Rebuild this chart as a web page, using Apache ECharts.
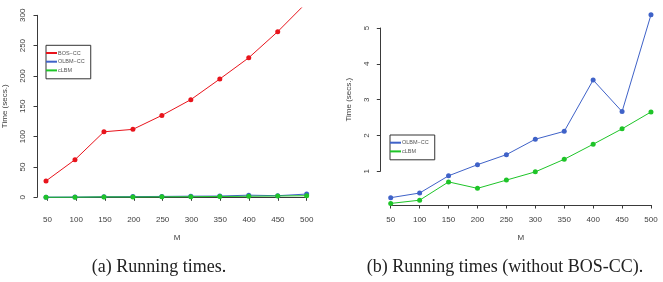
<!DOCTYPE html>
<html>
<head>
<meta charset="utf-8">
<script src="https://cdn.jsdelivr.net/npm/echarts@6/dist/echarts.min.js"></script>
<style>
html,body{margin:0;padding:0;background:#fff;}
#c{width:663px;height:282px;}
</style>
</head>
<body>
<div id="c"></div>
<script>
// ---- data ----
var M = [50, 100, 150, 200, 250, 300, 350, 400, 450, 500];
var bosCC = [27, 62, 108, 112, 135, 161, 195, 230, 273, 321];
var olbmCC = [0.27, 0.40, 0.88, 1.19, 1.47, 1.90, 2.12, 3.55, 2.67, 5.37];
var cLBM = [0.11, 0.20, 0.71, 0.53, 0.76, 0.99, 1.34, 1.76, 2.19, 2.66];
var leftTicksY = [0, 50, 100, 150, 200, 250, 300];
var rightTicksY = [1, 2, 3, 4, 5];
var names = ['BOS\u2212CC', 'OLBM\u2212CC', 'cLBM'];
var captions = ['(a) Running times.', '(b) Running times (without BOS-CC).'];

var RED = '#e8141c', BLUE = '#3f62c8', GREEN = '#1ec428';
var AX = '#3a3a3a', TXT = '#404040';

function pairs(ys) { return M.map(function (m, i) { return [m, ys[i]]; }); }

function frameX(grid, offset, nameGap) {
  return {
    gridIndex: grid, type: 'value', min: M[0], max: M[M.length - 1], interval: 50,
    offset: offset, position: 'bottom',
    name: 'M', nameLocation: 'middle', nameGap: nameGap,
    nameTextStyle: { fontSize: 8, color: TXT, fontFamily: 'Liberation Sans' },
    axisLine: { show: true, lineStyle: { color: AX, width: 1 } },
    axisTick: { show: true, length: 3.5, lineStyle: { color: AX } },
    axisLabel: { fontSize: 8, color: TXT, margin: 11, fontFamily: 'Liberation Sans' },
    splitLine: { show: false }
  };
}
function frameY(grid, ticks, offset, nameGap) {
  return {
    gridIndex: grid, type: 'value', min: ticks[0], max: ticks[ticks.length - 1],
    interval: ticks[1] - ticks[0], offset: offset, position: 'left',
    name: 'Time (secs.)', nameLocation: 'middle', nameGap: nameGap, nameRotate: 90,
    nameTextStyle: { fontSize: 8, color: TXT, fontFamily: 'Liberation Sans' },
    axisLine: { show: true, lineStyle: { color: AX, width: 1 } },
    axisTick: { show: true, length: 3.5, lineStyle: { color: AX } },
    axisLabel: { fontSize: 8, color: TXT, margin: 10, rotate: 90, fontFamily: 'Liberation Sans' },
    splitLine: { show: false }
  };
}
function hidden(grid, min, max) {
  return {
    gridIndex: grid, type: 'value', min: min, max: max, show: false,
    splitLine: { show: false }
  };
}
function line(name, data, color, xi, yi) {
  return {
    type: 'line', name: name, data: pairs(data), xAxisIndex: xi, yAxisIndex: yi,
    symbol: 'circle', symbolSize: 5, showSymbol: true, clip: true,
    lineStyle: { color: color, width: 1 }, itemStyle: { color: color },
    animation: false, silent: true
  };
}

var chart = echarts.init(document.getElementById('c'), null, { renderer: 'canvas' });
var legendCommon = {
  orient: 'vertical', icon: 'rect', itemWidth: 11, itemHeight: 2, itemGap: 2.7,
  borderColor: '#333', borderWidth: 1, borderRadius: 0,
  textStyle: { fontSize: 5.5, color: '#555', fontFamily: 'Liberation Sans', padding: [0, 0, 0, -4] },
  selectedMode: false
};
chart.setOption({
  animation: false,
  backgroundColor: '#fff',
  title: [
    { text: captions[0], left: 154, top: 253, textAlign: 'center',
      textStyle: { fontFamily: 'Liberation Serif', fontSize: 18, fontWeight: 'normal', color: '#222' } },
    { text: captions[1], left: 500, top: 253, textAlign: 'center',
      textStyle: { fontFamily: 'Liberation Serif', fontSize: 18, fontWeight: 'normal', color: '#222' } }
  ],
  legend: [
    Object.assign({}, legendCommon, { data: names, left: 46, top: 45.3, padding: [4.7, 6, 5.4, 0] }),
    Object.assign({}, legendCommon, { data: names.slice(1), left: 390, top: 135, padding: [4.7, 6, 5.4, 0] })
  ],
  grid: [
    { left: 46, top: 15.3, width: 260.7, height: 182, containLabel: false },
    { left: 35.6, top: 8, width: 281.5, height: 196.6, containLabel: false },
    { left: 390.7, top: 28, width: 260.3, height: 143.33, containLabel: false },
    { left: 380.3, top: 7.45, width: 281.1, height: 197.55, containLabel: false }
  ],
  xAxis: [
    frameX(0, 7.3, 29),
    hidden(1, 32, 518),
    frameX(2, 33.7, 29),
    hidden(3, 32, 518)
  ],
  yAxis: [
    frameY(0, leftTicksY, 10.4, 28),
    hidden(1, -12, 312),
    frameY(2, rightTicksY, 10.4, 28),
    hidden(3, 0.066, 5.574)
  ],
  series: [
    line(names[0], bosCC, RED, 1, 1),
    line(names[1], olbmCC, BLUE, 1, 1),
    line(names[2], cLBM, GREEN, 1, 1),
    line(names[1], olbmCC, BLUE, 3, 3),
    line(names[2], cLBM, GREEN, 3, 3)
  ]
});
</script>
</body>
</html>
